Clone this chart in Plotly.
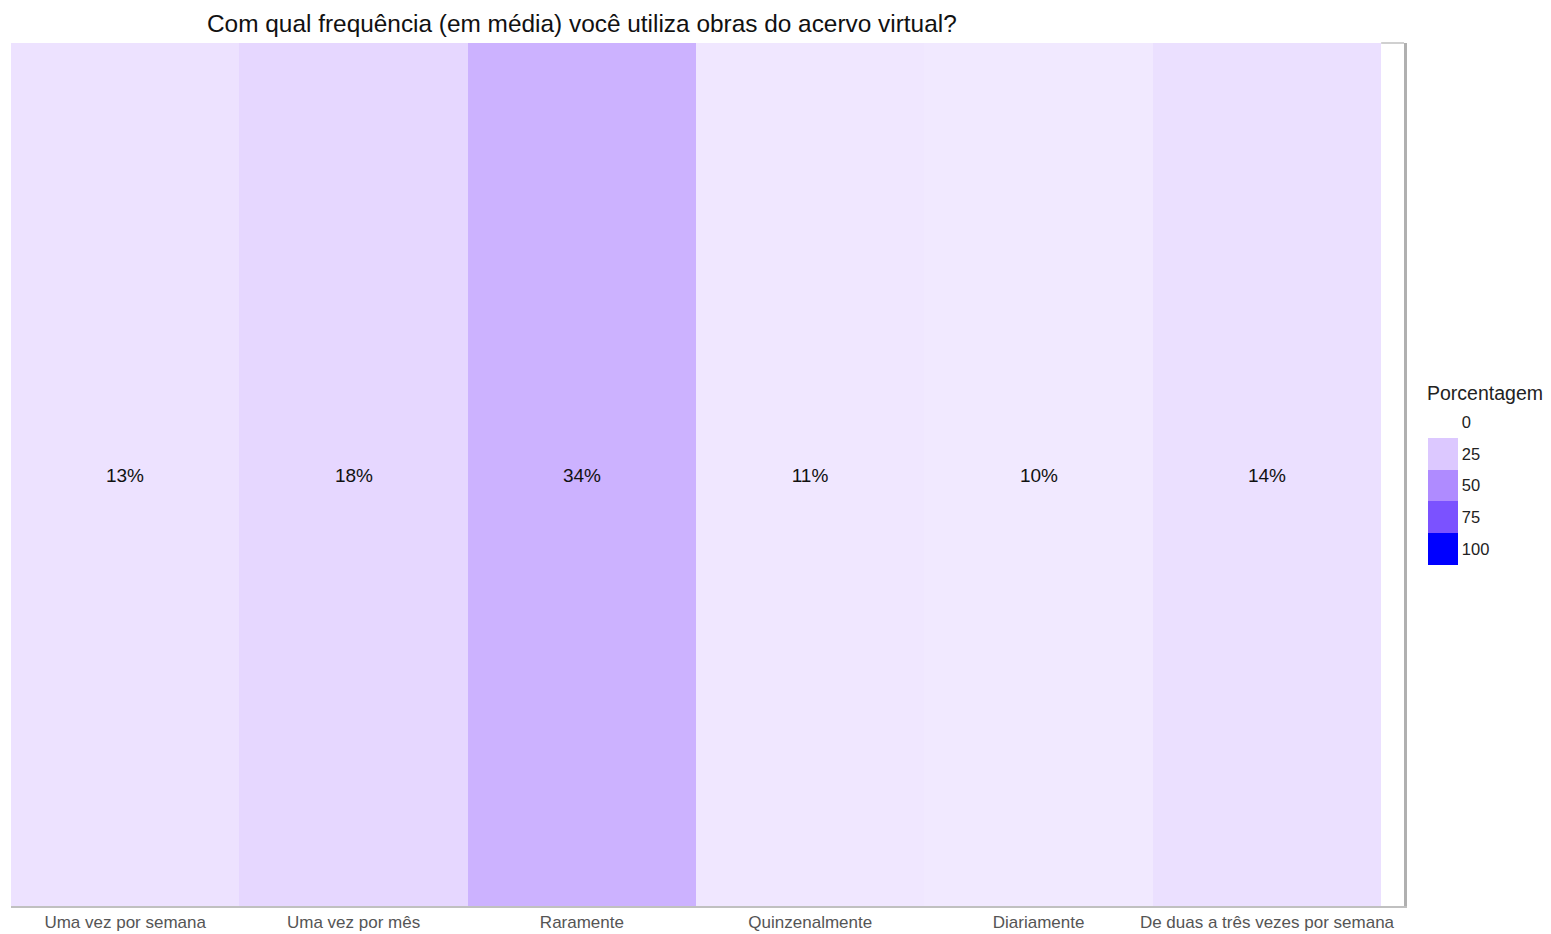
import plotly.graph_objects as go

categories = ["Uma vez por semana", "Uma vez por mês", "Raramente",
              "Quinzenalmente", "Diariamente", "De duas a três vezes por semana"]
percentages = [13, 18, 34, 11, 10, 14]
legend_ticks = [0, 25, 50, 75, 100]
legend_colors = ["#FFFFFF", "#DCC8FF", "#AF8BFF", "#7B52FF", "#0000FF"]

title = "Com qual frequência (em média) você utiliza obras do acervo virtual?"
legend_title = "Porcentagem"

OFF = 8  # page body margin
W, H = 1543, 926
ml, mt = 3, 35
mr = W - (1404 - OFF)
mb = H - (906 - OFF)
plot_w = W - ml - mr
plot_h = H - mt - mb

main_scale = [[t / 100, c] for t, c in zip(legend_ticks, legend_colors)]

fig = go.Figure()
fig.add_trace(go.Heatmap(
    x=categories, y=[""], z=[percentages],
    text=[[f"{p}%" for p in percentages]],
    texttemplate="%{text}",
    textfont=dict(size=19, color="#111111", family="Liberation Sans, Arial"),
    colorscale=main_scale, zmin=0, zmax=100, showscale=False,
    xgap=0, ygap=0, hoverinfo="skip",
))

# stepped legend (0 at top)
n = len(legend_ticks)
lo, hi = -legend_ticks[-1] - 12.5, 12.5
step_scale = []
for i, c in enumerate(reversed(legend_colors)):
    step_scale.append([i / n, c])
    step_scale.append([(i + 1) / n, c])
fig.add_trace(go.Scatter(
    x=[categories[0]], y=[""], mode="markers",
    marker=dict(size=1, opacity=0, color=[0], colorscale=step_scale,
                cmin=lo, cmax=hi, showscale=True,
                colorbar=dict(
                    tickvals=[-t for t in legend_ticks], ticktext=[str(t) for t in legend_ticks],
                    tickfont=dict(size=16.5, color="#222222", family="Liberation Sans, Arial"),
                    ticks="", outlinewidth=0, thickness=30, thicknessmode="pixels",
                    len=159, lenmode="pixels", x=(1428 - OFF) / W, xref="container", xanchor="left",
                    y=1 - (520.5 - OFF) / H, yref="container", yanchor="middle", xpad=0, ypad=0,
                )),
    hoverinfo="skip", showlegend=False,
))

fig.add_annotation(
    text=legend_title, xref="paper", yref="paper",
    x=(1426 - OFF - ml) / plot_w, y=(906 - 393) / plot_h,
    xanchor="left", yanchor="middle", showarrow=False, borderpad=0,
    font=dict(size=19.5, color="#222222", family="Liberation Sans, Arial"),
)

# light top frame segment visible only beyond the tiles
fig.add_shape(type="line", xref="x", yref="y domain", layer="below",
              x0=len(categories) - 0.5, x1=len(categories) - 0.4, y0=1, y1=1,
              line=dict(color="#D0D0D0", width=2))

fig.update_layout(
    width=W, height=H,
    margin=dict(l=ml, r=mr, t=mt, b=mb),
    paper_bgcolor="white", plot_bgcolor="white",
    title=dict(text=title, x=(207 - OFF) / W, xanchor="left", xref="container",
               y=1 - (23 - OFF) / H, yanchor="middle", yref="container",
               font=dict(size=24.4, color="#111111", family="Liberation Sans, Arial")),
    xaxis=dict(range=[-0.5, len(categories) - 0.4], showgrid=False, zeroline=False,
               showline=True, mirror=False, linecolor="#C0C0C0", linewidth=2,
               ticks="",
               tickfont=dict(size=17, color="#555555", family="Liberation Sans, Arial")),
    yaxis=dict(showgrid=False, zeroline=False, showticklabels=False, ticks="",
               showline=True, side="right", linecolor="#B0B0B0", linewidth=3),
    font=dict(family="Liberation Sans, Arial"),
)

fig.write_html("out.html")
